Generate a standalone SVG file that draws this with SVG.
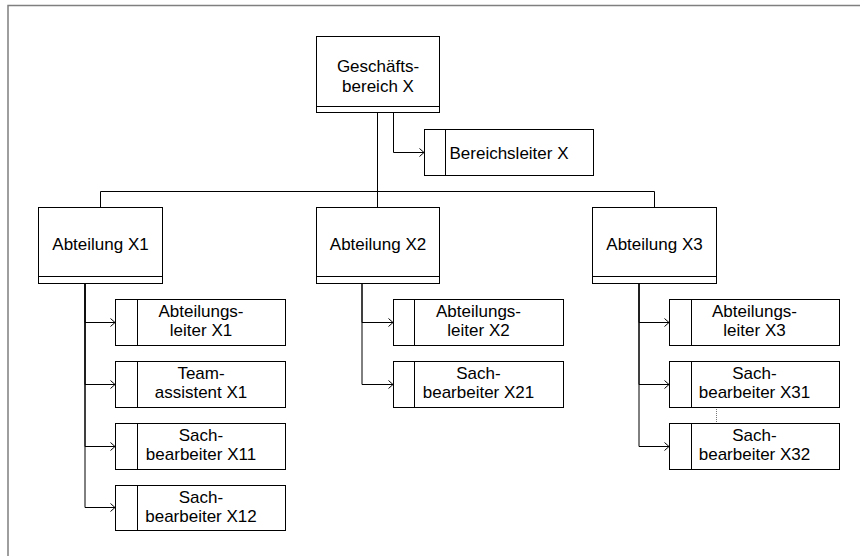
<svg xmlns="http://www.w3.org/2000/svg" width="860" height="556" viewBox="0 0 860 556">
<style>
.box{fill:#fff;stroke:#000;stroke-width:1}
.ln{fill:none;stroke:#000;stroke-width:1}
.con{fill:none;stroke:#000;stroke-width:1}
.t{font-family:"Liberation Sans",Arial,sans-serif;font-size:17px;fill:#000;text-anchor:middle}
</style>
<defs>
<marker id="arr" markerWidth="8" markerHeight="10" refX="6" refY="5" orient="auto" markerUnits="userSpaceOnUse">
<path d="M1.5,1 L6,5 L1.5,9" fill="none" stroke="#000" stroke-width="1"/>
</marker>
</defs>
<rect width="860" height="556" fill="#fff"/>
<path d="M8,556 V5.5 H860" fill="none" stroke="#7f7f7f" stroke-width="1.5"/>

<g id="connectors">
<path class="con" d="M377.5,113 V191.5 H100.5 V207"/>
<path class="con" d="M377.5,113 V207"/>
<path class="con" d="M377.5,113 V191.5 H654.5 V207"/>
<path class="con" d="M393.5,113 V152.5 H424" marker-end="url(#arr)"/>
<path class="con" d="M85,283 V322.5 H115" marker-end="url(#arr)"/>
<path class="con" d="M85,283 V384.5 H115" marker-end="url(#arr)"/>
<path class="con" d="M85,283 V446.5 H115" marker-end="url(#arr)"/>
<path class="con" d="M85,283 V507.5 H115" marker-end="url(#arr)"/>
<path class="con" d="M362,283 V322.5 H393" marker-end="url(#arr)"/>
<path class="con" d="M362,283 V384.5 H393" marker-end="url(#arr)"/>
<path class="con" d="M639,283 V322.5 H669" marker-end="url(#arr)"/>
<path class="con" d="M639,283 V384.5 H669" marker-end="url(#arr)"/>
<path class="con" d="M639,283 V446.5 H669" marker-end="url(#arr)"/>
<path d="M716.5,407 V423" fill="none" stroke="#777" stroke-width="1" stroke-dasharray="1,1"/>
</g>

<g id="geschaeftsbereich">
<rect class="box" x="316.5" y="36.5" width="123" height="76"/>
<path class="ln" d="M316.5,106.5 H439.5"/>
<text class="t" x="378" y="72">Geschäfts-</text>
<text class="t" x="378" y="91.5">bereich X</text>
</g>

<g id="bereichsleiter">
<rect class="box" x="424.5" y="129.5" width="169" height="46"/>
<path class="ln" d="M445.5,129.5 V175.5"/>
<text class="t" x="509" y="158.5">Bereichsleiter X</text>
</g>

<g id="abteilung1">
<rect class="box" x="38.5" y="207.5" width="124" height="76"/>
<path class="ln" d="M38.5,276.5 H162.5"/>
<text class="t" x="100.5" y="249.5">Abteilung X1</text>
</g>

<g id="abteilung2">
<rect class="box" x="316.5" y="207.5" width="123" height="76"/>
<path class="ln" d="M316.5,276.5 H439.5"/>
<text class="t" x="378" y="249.5">Abteilung X2</text>
</g>

<g id="abteilung3">
<rect class="box" x="592.5" y="207.5" width="124" height="76"/>
<path class="ln" d="M592.5,276.5 H716.5"/>
<text class="t" x="654.5" y="249.5">Abteilung X3</text>
</g>

<g id="abteilungsleiter1">
<rect class="box" x="115.5" y="299.5" width="170" height="46"/>
<path class="ln" d="M137.5,299.5 V345.5"/>
<text class="t" x="201" y="316.5">Abteilungs-</text>
<text class="t" x="201" y="336">leiter X1</text>
</g>
<g id="teamassistent1">
<rect class="box" x="115.5" y="361.5" width="170" height="46"/>
<path class="ln" d="M137.5,361.5 V407.5"/>
<text class="t" x="201" y="378.5">Team-</text>
<text class="t" x="201" y="398">assistent X1</text>
</g>
<g id="sachbearbeiter11">
<rect class="box" x="115.5" y="423.5" width="170" height="46"/>
<path class="ln" d="M137.5,423.5 V469.5"/>
<text class="t" x="201" y="440.5">Sach-</text>
<text class="t" x="201" y="460">bearbeiter X11</text>
</g>
<g id="sachbearbeiter12">
<rect class="box" x="115.5" y="485.5" width="170" height="45"/>
<path class="ln" d="M137.5,485.5 V530.5"/>
<text class="t" x="201" y="502.5">Sach-</text>
<text class="t" x="201" y="522">bearbeiter X12</text>
</g>

<g id="abteilungsleiter2">
<rect class="box" x="393.5" y="299.5" width="170" height="46"/>
<path class="ln" d="M414.5,299.5 V345.5"/>
<text class="t" x="478.5" y="316.5">Abteilungs-</text>
<text class="t" x="478.5" y="336">leiter X2</text>
</g>
<g id="sachbearbeiter21">
<rect class="box" x="393.5" y="361.5" width="170" height="46"/>
<path class="ln" d="M414.5,361.5 V407.5"/>
<text class="t" x="478.5" y="378.5">Sach-</text>
<text class="t" x="478.5" y="398">bearbeiter X21</text>
</g>

<g id="abteilungsleiter3">
<rect class="box" x="669.5" y="299.5" width="170" height="46"/>
<path class="ln" d="M691.5,299.5 V345.5"/>
<text class="t" x="754.5" y="316.5">Abteilungs-</text>
<text class="t" x="754.5" y="336">leiter X3</text>
</g>
<g id="sachbearbeiter31">
<rect class="box" x="669.5" y="361.5" width="170" height="46"/>
<path class="ln" d="M691.5,361.5 V407.5"/>
<text class="t" x="754.5" y="378.5">Sach-</text>
<text class="t" x="754.5" y="398">bearbeiter X31</text>
</g>
<g id="sachbearbeiter32">
<rect class="box" x="669.5" y="423.5" width="170" height="46"/>
<path class="ln" d="M691.5,423.5 V469.5"/>
<text class="t" x="754.5" y="440.5">Sach-</text>
<text class="t" x="754.5" y="460">bearbeiter X32</text>
</g>
</svg>
